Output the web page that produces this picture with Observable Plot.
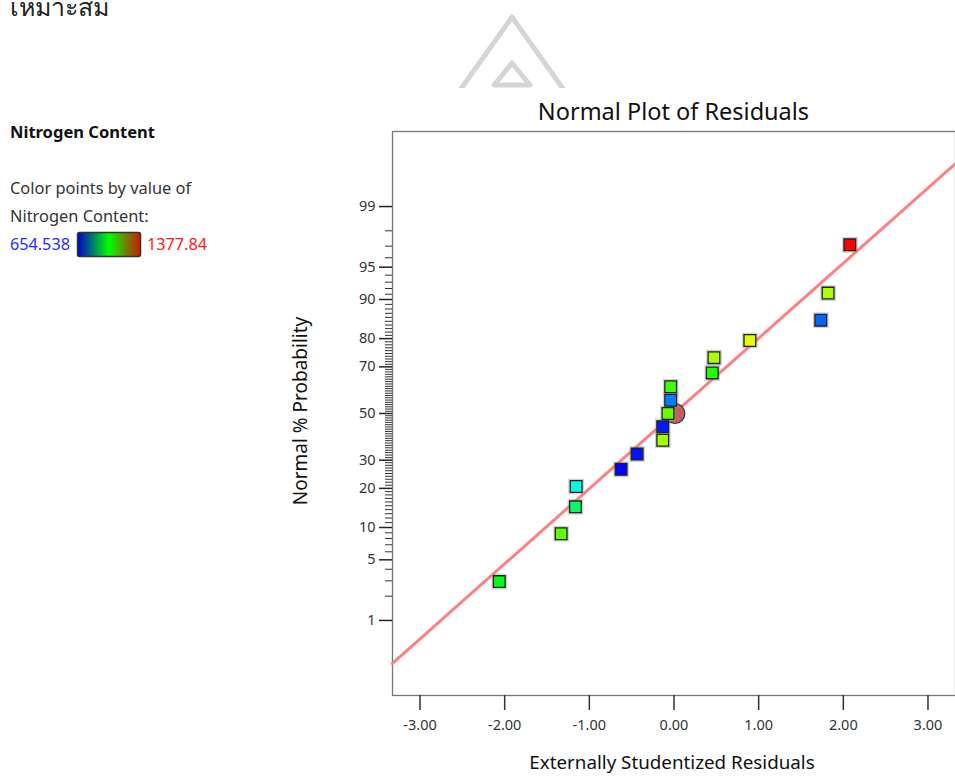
<!DOCTYPE html>
<html>
<head>
<meta charset="utf-8">
<script src="https://cdn.jsdelivr.net/npm/d3@7"></script>
<script src="https://cdn.jsdelivr.net/npm/@observablehq/plot@0.6"></script>
<style>
  html, body { margin: 0; padding: 0; background: #fff; }
  #wrap { position: relative; width: 955px; height: 776px; overflow: hidden; font-family: "Noto Sans", "Open Sans", sans-serif; }
  #chart { position: absolute; left: 0; top: 0; }
  #chart svg text { font-size: 14.5px !important; fill: #333; }
  .abs { position: absolute; white-space: nowrap; color: #222; }
</style>
</head>
<body>
<div id="wrap">
  <svg class="abs" style="left:0;top:0" width="955" height="776" id="deco">
    <defs><clipPath id="wm"><rect x="0" y="0" width="955" height="88"/></clipPath></defs>
    <g clip-path="url(#wm)" fill="none" stroke="#d5d5d5" stroke-width="5" stroke-linejoin="round" stroke-linecap="round">
      <polyline points="453,100 512,17 571,100"/>
      <polygon points="512,63 530,85 494,85"/>
    </g>
    <text x="10" y="16" font-size="25" fill="#222" font-family="'Noto Sans', 'DejaVu Sans', sans-serif">เหมาะสม</text>
    <text x="10" y="138" font-size="15.5" font-weight="bold" fill="#111" textLength="145" lengthAdjust="spacingAndGlyphs">Nitrogen Content</text>
    <text x="10" y="194" font-size="16.4" fill="#333">Color points by value of</text>
    <text x="10" y="222" font-size="16.4" fill="#333">Nitrogen Content:</text>
    <text x="10" y="250" font-size="16.2" fill="#2a2aff" id="legMin"></text>
    <defs>
      <linearGradient id="grad" x1="0" x2="1" y1="0" y2="0">
        <stop offset="0" stop-color="#0000d0"/>
        <stop offset="0.5" stop-color="#00ff00"/>
        <stop offset="1" stop-color="#d01800"/>
      </linearGradient>
    </defs>
    <rect x="77.5" y="232.5" width="63" height="24" rx="2" fill="url(#grad)" stroke="#333" stroke-width="1.5"/>
    <text x="147" y="250" font-size="16.2" fill="#ff2020" id="legMax"></text>
    <text x="673.5" y="120" font-size="23.5" text-anchor="middle" fill="#111">Normal Plot of Residuals</text>
    <text transform="translate(307,411) rotate(-90)" font-size="19" text-anchor="middle" fill="#111">Normal % Probability</text>
    <text x="672" y="769" font-size="18.8" text-anchor="middle" fill="#111">Externally Studentized Residuals</text>
  </svg>
  <div id="chart"></div>
</div>
<script>
// ---- data ----
const residuals   = [-2.064, -1.333, -1.164, -1.156, -0.625, -0.436, -0.133, -0.133, -0.071, -0.039, -0.039, 0.452, 0.472, 0.896, 1.734, 1.820, 2.077];
const probability = [2.94, 8.82, 14.7, 20.6, 26.5, 32.4, 38.2, 44.1, 50.0, 55.9, 61.8, 67.6, 73.5, 79.4, 85.3, 91.2, 97.1];
const nitrogen    = [1002, 1081, 944, 857, 655, 669, 1132, 672, 1089, 745, 1060, 1038, 1139, 1175, 727, 1139, 1377.84];
const nitrogenRange = [654.538, 1377.84];
const xTicks = [-3, -2, -1, 0, 1, 2, 3];
const yMajor = [1, 5, 10, 20, 30, 50, 70, 80, 90, 95, 99];
const fitSlope = 0.845;          // normal line through (0, 50%)
const fitX = [-3.325, 3.325];
const centerPoint = [{x: 0.01, p: 50}];

// inverse normal CDF (probit) for the probability scale
function probit(p) {
  const a=[-3.969683028665376e+01,2.209460984245205e+02,-2.759285104469687e+02,1.383577518672690e+02,-3.066479806614716e+01,2.506628277459239e+00];
  const b=[-5.447609879822406e+01,1.615858368580409e+02,-1.556989798598866e+02,6.680131188771972e+01,-1.328068155288572e+01];
  const c=[-7.784894002430293e-03,-3.223964580411365e-01,-2.400758277161838e+00,-2.549732539343734e+00,4.374664141464968e+00,2.938163982698783e+00];
  const d=[7.784695709041462e-03,3.224671290700398e-01,2.445134137142996e+00,3.754408661907416e+00];
  const pl=0.02425, ph=1-pl; let q, r;
  if (p < pl) { q=Math.sqrt(-2*Math.log(p)); return (((((c[0]*q+c[1])*q+c[2])*q+c[3])*q+c[4])*q+c[5])/((((d[0]*q+d[1])*q+d[2])*q+d[3])*q+1); }
  if (p <= ph) { q=p-0.5; r=q*q; return (((((a[0]*r+a[1])*r+a[2])*r+a[3])*r+a[4])*r+a[5])*q/(((((b[0]*r+b[1])*r+b[2])*r+b[3])*r+b[4])*r+1); }
  q=Math.sqrt(-2*Math.log(1-p)); return -(((((c[0]*q+c[1])*q+c[2])*q+c[3])*q+c[4])*q+c[5])/((((d[0]*q+d[1])*q+d[2])*q+d[3])*q+1);
}
const z = p => probit(p / 100);

document.getElementById("legMin").textContent = String(nitrogenRange[0]);
document.getElementById("legMax").textContent = String(nitrogenRange[1]);

const points = residuals.map((r, i) => ({x: r, z: z(probability[i]), n: nitrogen[i]}));
const fitData = fitX.map(x => ({x, z: fitSlope * x}));
const center = centerPoint.map(d => ({x: d.x, z: z(d.p)}));
const yMinor = d3.range(2, 99).filter(p => !yMajor.includes(p));
const majorLabel = new Map(yMajor.map(p => [z(p), String(p)]));

const chart = Plot.plot({
  width: 955, height: 776,
  marginLeft: 392, marginRight: 0, marginTop: 131, marginBottom: 81,
  style: {fontFamily: "'Noto Sans', 'Open Sans', sans-serif", fontSize: "14.5px", color: "#333", background: "transparent"},
  x: {domain: [-3.325, 3.325]},
  y: {domain: [-3.17, 3.17]},
  color: {type: "linear", domain: nitrogenRange, interpolate: t => d3.hsl(240 * (1 - t), 1, 0.5).toString()},
  marks: [
    Plot.frame({stroke: "#777", strokeWidth: 1.3}),
    Plot.axisY({ticks: yMinor.map(z), tickSize: 7, tickFormat: () => "", label: null, stroke: "#333"}),
    Plot.axisY({ticks: yMajor.map(z), tickSize: 13, tickPadding: 4, tickFormat: v => majorLabel.get(v), label: null, stroke: "#222", strokeWidth: 1.5}),
    Plot.axisX({ticks: xTicks, tickSize: 15, tickPadding: 9, tickFormat: d => d.toFixed(2), label: null, stroke: "#333", strokeWidth: 1.5}),
    Plot.line(fitData, {x: "x", y: "z", stroke: "#ff8080", strokeWidth: 3}),
    Plot.dot(center, {x: "x", y: "z", r: 10, fill: "#bf5f5f", stroke: "#333", strokeWidth: 1.2}),
    Plot.dot(points, {x: "x", y: "z", symbol: "square", r: 6.6, fill: "none", stroke: "#999", strokeWidth: 4, strokeOpacity: 0.45}),
    Plot.dot(points, {x: "x", y: "z", symbol: "square", r: 6.6, fill: "n", stroke: "#222", strokeWidth: 1.3})
  ]
});
document.getElementById("chart").appendChild(chart);
</script>
</body>
</html>
